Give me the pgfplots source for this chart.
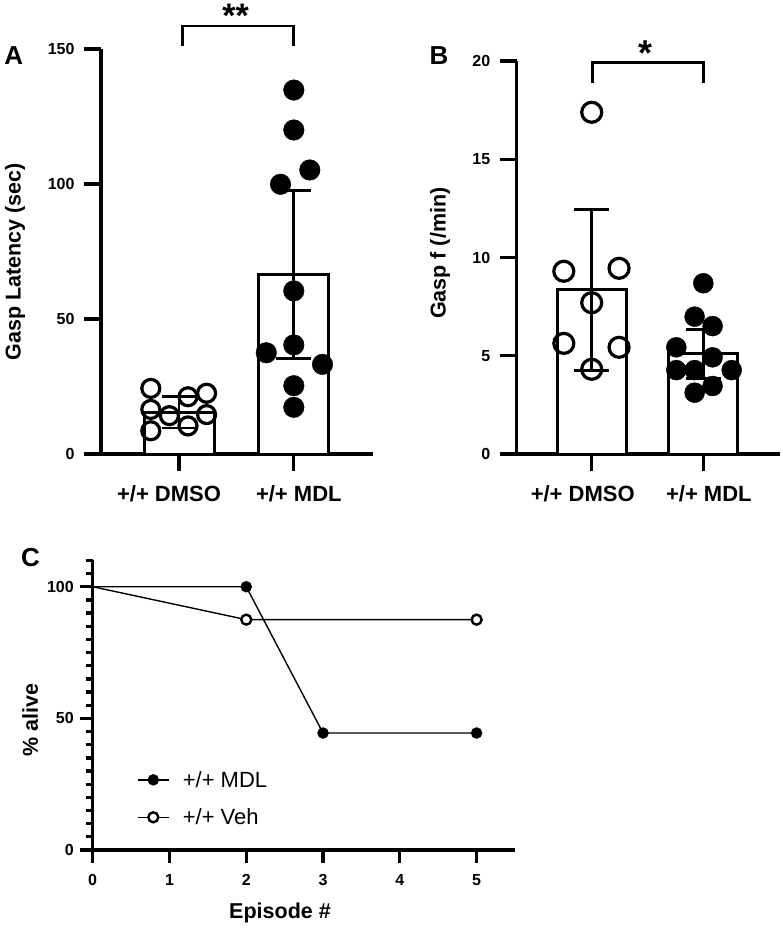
\documentclass[border=0pt]{standalone}
\usepackage{fontspec}
\setmainfont{Liberation Sans}
\usepackage{pgfplots}
\pgfplotsset{compat=1.18}
\begin{document}
\begin{tikzpicture}
\useasboundingbox (0pt,0pt) rectangle (782pt,-928pt);
\pgfplotsset{
 gp/.style={
  scale only axis, clip=false,
  axis lines=left, axis line style={-, line width=3.3pt},
  tick align=outside, major tick length=17pt,
  tick style={black, line width=3.3pt},
  /pgf/number format/assume math mode=true,
  yticklabel style={font=\fontsize{16}{18}\selectfont\bfseries, xshift=-6pt},
  xticklabel style={font=\fontsize{22}{24}\selectfont\bfseries, yshift=-11pt},
  every axis label/.append style={font=\fontsize{21.5}{24}\selectfont\bfseries},
 },
 barstyle/.style={ybar, bar width=#1, fill=white, draw=black, line width=3pt,
   error bars/.cd, y dir=both, y explicit,
   error bar style={line width=2.8pt, black},
   error mark options={rotate=90, line width=2.8pt, mark size=17.5pt, black}},
 openpt/.style={only marks, mark=o, mark size=#1, mark options={line width=3.2pt, black}},
 fillpt/.style={only marks, mark=*, mark size=#1, mark options={draw=black, fill=black}},
}
% Panel A
\begin{axis}[gp, at={(101pt,-454pt)}, anchor=south west, width=272pt, height=405pt,
 xmin=-0.68, xmax=1.69, ymin=0, ymax=150, ytick={0,50,100,150},
 xtick={0,1}, xticklabels={{\hspace*{-20pt}+/+ DMSO},{+/+ MDL\hspace*{-10pt}}},
 ylabel={Gasp Latency (sec)},
 ylabel style={at={(axis description cs:-0.316,0.474)}, anchor=center},
]
\addplot[barstyle=70pt] coordinates {(0,15.4) +- (0,5.8) (1,66.5) +- (0,31.2)};
\addplot[openpt=9pt] coordinates {(-0.246,24.3) (-0.246,16.5) (-0.246,8.6) (-0.084,14.2) (0.078,21.2) (0.078,10.4) (0.24,22.5) (0.24,14.6)};
\addplot[fillpt=10.3pt] coordinates {(1,134.8) (1,120) (1.139,105.2) (0.884,99.9) (1,60.4) (1,40.4) (0.76,37.5) (1.25,33.2) (1,25.3) (1,17.3)};
\draw[line width=2.8pt] (axis cs:0.029,151.1) -- (axis cs:0.029,158.5) -- (axis cs:1.0,158.5) -- (axis cs:1.0,151.1);
\node[anchor=base, font=\fontsize{34}{34}\selectfont\bfseries, inner sep=0pt] at (axis cs:0.492,158.0) {**};
\end{axis}
% Panel B
\begin{axis}[gp, at={(516.7pt,-454pt)}, anchor=south west, width=263.3pt, height=393pt,
 xmin=-0.672, xmax=1.687, ymin=0, ymax=20, ytick={0,5,10,15,20},
 xtick={0,1}, xticklabels={{\hspace*{-18pt}+/+ DMSO},{+/+ MDL\hspace*{-11pt}}},
 ylabel={Gasp f (/min)},
 ylabel style={at={(axis description cs:-0.291,0.511)}, anchor=center},
]
\addplot[barstyle=69pt] coordinates {(0,8.35) +- (0,4.1) (1,5.1) +- (0,1.25)};
\addplot[openpt=10pt] coordinates {(0,17.39) (-0.25,9.3) (0.245,9.45) (0,7.7) (-0.25,5.63) (0.245,5.43) (0,4.31)};
\addplot[fillpt=10pt] coordinates {(1,8.69) (0.922,6.99) (1.083,6.51) (0.758,5.43) (1.083,4.92) (0.758,4.27) (0.922,4.27) (1.254,4.27) (1.083,3.46) (0.922,3.12)};
\draw[line width=2.8pt] (axis cs:0.009,18.9) -- (axis cs:0.009,19.91) -- (axis cs:1.0,19.91) -- (axis cs:1.0,18.9);
\node[anchor=base, font=\fontsize{36}{36}\selectfont\bfseries, inner sep=0pt] at (axis cs:0.478,19.75) {*};
\end{axis}
% Panel C
\begin{axis}[gp, at={(92.7pt,-850pt)}, anchor=south west, width=422.3pt, height=289.6pt,
 xmin=0, xmax=5.5, ymin=0, ymax=110, xtick={0,1,2,3,4,5}, ytick={0,50,100},
 minor ytick={5,10,...,110}, major tick length=13pt, minor tick length=6.7pt,
 yticklabel style={xshift=3.6pt},
 xticklabel style={font=\fontsize{16}{18}\selectfont\bfseries, yshift=3pt},
 xlabel={Episode \#}, ylabel={\% alive},
 xlabel style={at={(axis description cs:0.4435,-0.2175)}, anchor=center},
 ylabel style={at={(axis description cs:-0.148,0.449)}, anchor=center},
 legend style={at={(axis description cs:0.104,0.273)}, anchor=north west, draw=none, fill=none,
   font=\fontsize{22}{24}\selectfont, row sep=20pt, column sep=13pt, inner sep=0pt, nodes={inner sep=0pt}},
 legend cell align=left,
 legend image code/.code={\draw[black, line width=1.4pt] (0pt,0pt) -- (31.6pt,0pt);
   \draw[#1, mark repeat=2, mark phase=2] plot coordinates {(0pt,0pt) (15.8pt,0pt) (31.6pt,0pt)};},
]
\addplot[black, line width=1.4pt, forget plot] coordinates {(0,100) (2,100) (3,44.44) (5,44.44)};
\addplot[only marks, mark=*, mark size=5.5pt, mark options={draw=black, fill=black}] coordinates {(2,100) (3,44.44) (5,44.44)};
\addlegendentry{+/+ MDL}
\addplot[black, line width=1.4pt, forget plot] coordinates {(0,100) (2,87.5) (5,87.5)};
\addplot[only marks, mark=*, mark size=5pt, mark options={draw=black, fill=white, line width=2.4pt}] coordinates {(2,87.5) (5,87.5)};
\addlegendentry{+/+ Veh}
\end{axis}
% Panel letters
\node[font=\fontsize{26}{26}\selectfont\bfseries] at (13.7pt,-55.8pt) {A};
\node[font=\fontsize{26}{26}\selectfont\bfseries] at (439pt,-55.8pt) {B};
\node[font=\fontsize{26}{26}\selectfont\bfseries] at (30.5pt,-557.5pt) {C};
\end{tikzpicture}
\end{document}
